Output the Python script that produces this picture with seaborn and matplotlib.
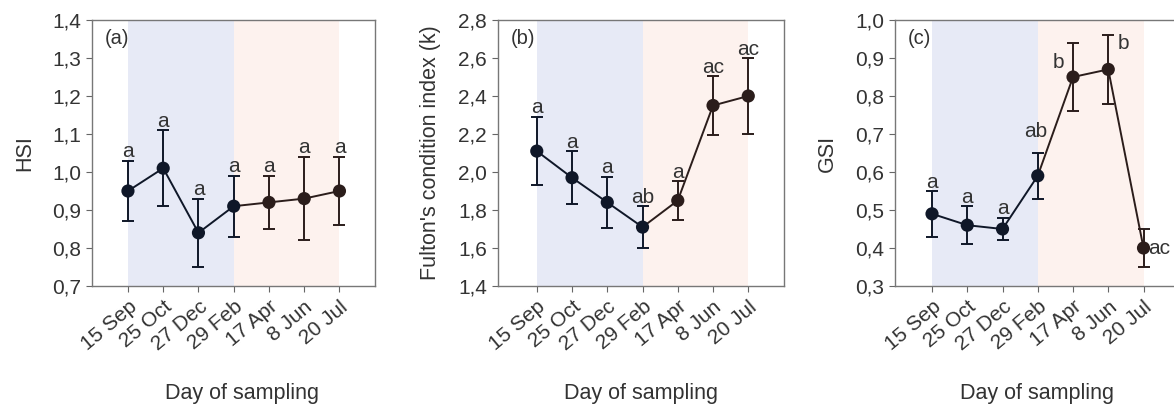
import matplotlib
matplotlib.use("Agg")
import matplotlib.pyplot as plt
import seaborn as sns
import pandas as pd
import numpy as np

sns.set_style("white")
plt.rcParams['font.family'] = ['Liberation Sans', 'DejaVu Sans']

dates = ["15 Sep", "25 Oct", "27 Dec", "29 Feb", "17 Apr", "8 Jun", "20 Jul"]

hsi_mean = [0.95, 1.01, 0.84, 0.91, 0.92, 0.93, 0.95]
hsi_err = [0.08, 0.10, 0.09, 0.08, 0.07, 0.11, 0.09]
hsi_letters = ["a", "a", "a", "a", "a", "a", "a"]

k_mean = [2.11, 1.97, 1.84, 1.71, 1.85, 2.35, 2.40]
k_err = [0.18, 0.14, 0.135, 0.11, 0.10, 0.155, 0.20]
k_letters = ["a", "a", "a", "ab", "a", "ac", "ac"]

gsi_mean = [0.49, 0.46, 0.45, 0.59, 0.85, 0.87, 0.40]
gsi_err = [0.06, 0.05, 0.03, 0.06, 0.09, 0.09, 0.05]
gsi_letters = ["a", "a", "a", "ab", "b", "b", "ac"]

panels = [
    dict(mean=hsi_mean, err=hsi_err, letters=hsi_letters, ylabel="HSI", tag="(a)",
         ylim=(0.7, 1.4), yticks=[0.7, 0.8, 0.9, 1.0, 1.1, 1.2, 1.3, 1.4],
         left=92, xlim=(-1.02, 7.0), letter_pos=None, xlab_x=0.53),
    dict(mean=k_mean, err=k_err, letters=k_letters, ylabel="Fulton's condition index (k)", tag="(b)",
         ylim=(1.4, 2.8), yticks=[1.4, 1.6, 1.8, 2.0, 2.2, 2.4, 2.6, 2.8],
         left=498, xlim=(-1.1, 7.0), letter_pos=None, xlab_x=0.5),
    dict(mean=gsi_mean, err=gsi_err, letters=gsi_letters, ylabel="GSI", tag="(c)",
         ylim=(0.3, 1.0), yticks=[0.3, 0.4, 0.5, 0.6, 0.7, 0.8, 0.9, 1.0],
         left=895, xlim=(-1.05, 7.0), letter_pos="gsi", xlab_x=0.5),
]

W, H = 1174, 405
fig = plt.figure(figsize=(W / 100, H / 100), dpi=100)

blue_c = "#0f1728"
brown_c = "#2b1d1b"
blue_bg = "#e7eaf6"
pink_bg = "#fdf2ee"
txt_c = "#333333"
unit = 35.25
top_px, bot_px = 20, 286
fs = 15

for p in panels:
    width_px = (p["xlim"][1] - p["xlim"][0]) * unit
    ax = fig.add_axes([p["left"] / W, (H - bot_px) / H, width_px / W, (bot_px - top_px) / H])
    x = np.arange(len(dates))
    df = pd.DataFrame({"x": x, "y": p["mean"], "season": ["w"] * 4 + ["s"] * 3})
    ax.axvspan(0, 3, color=blue_bg, lw=0, zorder=0)
    ax.axvspan(3, 6, color=pink_bg, lw=0, zorder=0)
    sns.lineplot(data=df.iloc[:4], x="x", y="y", color=blue_c, lw=1.4, ax=ax, zorder=2)
    sns.lineplot(data=df.iloc[3:], x="x", y="y", color=brown_c, lw=1.4, ax=ax, zorder=2)
    cols = [blue_c] * 4 + [brown_c] * 3
    for i in range(len(dates)):
        ax.errorbar(x[i], p["mean"][i], yerr=p["err"][i], fmt="none", ecolor=cols[i],
                    elinewidth=1.4, capsize=4, capthick=1.4, zorder=3)
    sns.scatterplot(data=df, x="x", y="y", hue="season", palette={"w": blue_c, "s": brown_c},
                    s=90, edgecolor="none", legend=False, ax=ax, zorder=4)
    ax.set_xlim(*p["xlim"])
    ax.set_ylim(*p["ylim"])
    ax.set_yticks(p["yticks"])
    ax.set_yticklabels([f"{v:.1f}".replace(".", ",") for v in p["yticks"]], fontsize=fs, color=txt_c)
    ax.set_xticks(x)
    ax.set_xticklabels(dates, rotation=40, ha="right", rotation_mode="anchor", fontsize=fs, color=txt_c)
    ax.tick_params(axis="both", direction="out", length=4, width=0.8, color="#666666",
                   bottom=True, left=True, pad=4)
    ax.set_xlabel("Day of sampling", fontsize=fs + 0.5, color=txt_c)
    ax.xaxis.set_label_coords(p["xlab_x"], -0.365)
    ax.set_ylabel(p["ylabel"], fontsize=fs + 0.5, color=txt_c, labelpad=12)
    for s in ax.spines.values():
        s.set_color("#777777")
        s.set_linewidth(1.0)
    ax.text(0.045, 0.965, p["tag"], transform=ax.transAxes, fontsize=fs - 0.5, color=txt_c, va="top", ha="left")
    yr = p["ylim"][1] - p["ylim"][0]
    for i, lt in enumerate(p["letters"]):
        top = p["mean"][i] + p["err"][i]
        if p["letter_pos"] == "gsi" and i == 3:
            ax.text(x[i] - 0.05, top + 0.045 * yr, lt, fontsize=fs, color=txt_c, ha="center", va="bottom")
        elif p["letter_pos"] == "gsi" and i == 4:
            ax.text(x[i] - 0.42, p["mean"][i] + 0.02 * yr, lt, fontsize=fs, color=txt_c, ha="center", va="bottom")
        elif p["letter_pos"] == "gsi" and i == 5:
            ax.text(x[i] + 0.43, p["mean"][i] + 0.06 * yr, lt, fontsize=fs, color=txt_c, ha="center", va="bottom")
        elif p["letter_pos"] == "gsi" and i == 6:
            ax.text(x[i] + 0.12, p["mean"][i], lt, fontsize=fs, color=txt_c, ha="left", va="center")
        else:
            ax.text(x[i], top - 0.002 * yr, lt, fontsize=fs, color=txt_c, ha="center", va="bottom")

fig.savefig("out.png", dpi=100)
